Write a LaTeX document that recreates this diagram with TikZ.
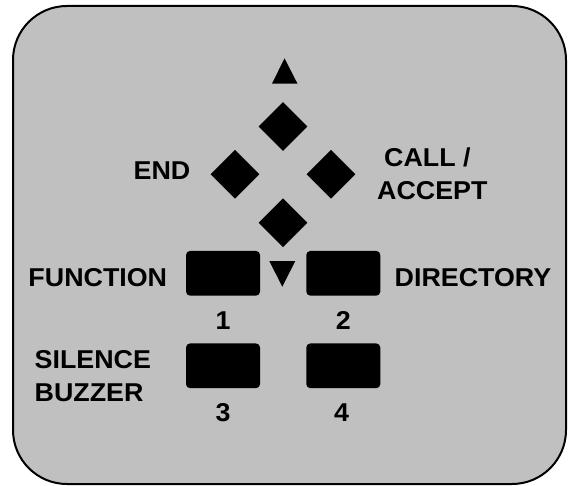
\documentclass[tikz,border=0pt]{standalone}
\usepackage{fontspec}
\setmainfont{Liberation Sans}[FakeStretch=1.04]
\usetikzlibrary{shapes.geometric}
\definecolor{panel}{HTML}{C0C0C0}
\begin{document}
\begin{tikzpicture}[x=1pt,y=-1pt,
  lbl/.style={font=\fontsize{25.8}{33}\selectfont\bfseries, inner sep=0pt, anchor=base},
  key/.style={diamond, fill=black, minimum width=49pt, minimum height=49pt, inner sep=0pt},
  btn/.style={rectangle, rounded corners=4pt, fill=black, minimum width=74pt, minimum height=44.7pt, inner sep=0pt},
  arrowmark/.style={fill=black}]
\useasboundingbox (0,0) rectangle (572,486);
% panel
\draw[line width=2pt, fill=panel, rounded corners=54pt] (13,6) rectangle (566,484);
% navigation keys
\node[key] (up)    at (283,126.5) {};
\node[key] (left)  at (235,174.3) {};
\node[key] (right) at (331,174.3) {};
\node[key] (down)  at (283,222.7) {};
% arrow marks
\fill[arrowmark] (272,83.7) -- (284.5,58.3) -- (297.5,83.7) -- cycle;
\fill[arrowmark] (269.3,261) -- (295.3,261) -- (282.3,286.7) -- cycle;
% buttons
\node[btn] (b1) at (223,273.3) {};
\node[btn] (b2) at (343.3,273.3) {};
\node[btn] (b3) at (223,365.8) {};
\node[btn] (b4) at (343.3,365.8) {};
% labels
\node[lbl] (lend) at (162,179.3) {END};
\node[lbl, anchor=base west, align=left] (lcall) at (377,200) {\hspace*{7pt}CALL /\\ACCEPT};
\node[lbl] (lfunc) at (97.8,286.7) {FUNCTION};
\node[lbl] (ldir) at (473,286) {DIRECTORY};
\node[lbl, anchor=base west, align=left] (lsil) at (34.5,401) {SILENCE\\BUZZER};
\node[lbl] (n1) at (223,329.3) {1};
\node[lbl] (n2) at (343.3,329.3) {2};
\node[lbl] (n3) at (223,421.7) {3};
\node[lbl] (n4) at (341.5,421.7) {4};
\end{tikzpicture}
\end{document}
